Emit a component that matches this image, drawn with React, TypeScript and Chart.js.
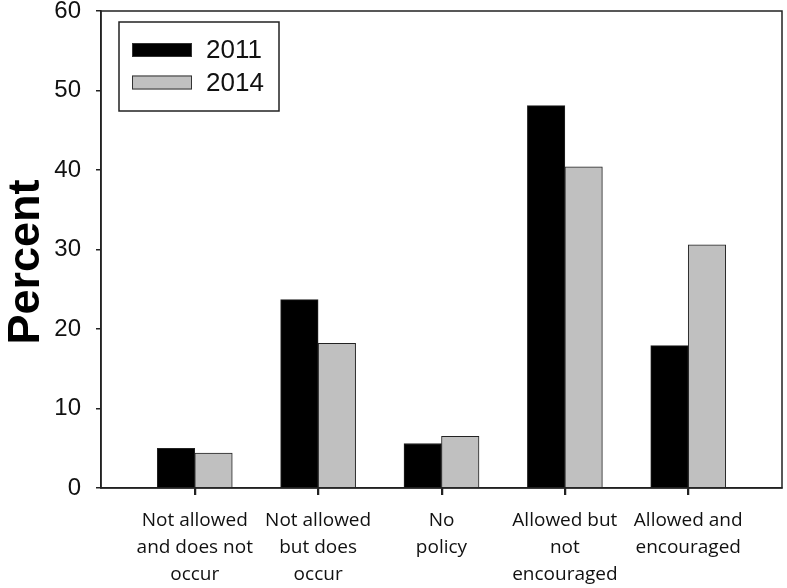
import React, { useEffect, useRef } from "react";
import { Chart, registerables } from "chart.js";

Chart.register(...registerables);

const categories: string[][] = [
  ["Not allowed", "and does not", "occur"],
  ["Not allowed", "but does", "occur"],
  ["No", "policy"],
  ["Allowed but", "not", "encouraged"],
  ["Allowed and", "encouraged"],
];
const positions = [1, 2, 3, 4, 5];
const values2011 = [5.0, 23.7, 5.6, 48.1, 17.9];
const values2014 = [4.4, 18.2, 6.5, 40.4, 30.6];
const yTicks = [0, 10, 20, 30, 40, 50, 60];

const frameAndLegend = {
  id: "frameAndLegend",
  afterDraw(chart: any) {
    const { ctx, chartArea } = chart;
    ctx.save();
    ctx.strokeStyle = "#222";
    ctx.lineWidth = 1.5;
    ctx.strokeRect(chartArea.left, chartArea.top, chartArea.right - chartArea.left, chartArea.bottom - chartArea.top);
    // x tick marks at category positions
    const xs = chart.scales.x;
    ctx.beginPath();
    positions.forEach((p) => {
      const px = Math.round(xs.getPixelForValue(p)) + 0.5;
      ctx.moveTo(px, chartArea.bottom);
      ctx.lineTo(px, chartArea.bottom + 7);
    });
    ctx.stroke();
    // legend
    const lx = 119, ly = 22, lw = 160, lh = 89;
    ctx.lineWidth = 1.5;
    ctx.strokeStyle = "#222";
    ctx.strokeRect(lx, ly, lw, lh);
    const rows = [50, 82.5];
    chart.data.datasets.forEach((ds: any, i: number) => {
      const cy = rows[i];
      ctx.fillStyle = ds.backgroundColor;
      ctx.fillRect(132, cy - 7, 60, 14);
      ctx.lineWidth = 1;
      ctx.strokeStyle = "#333";
      ctx.strokeRect(132.5, cy - 6.5, 59, 13);
      ctx.fillStyle = "#111";
      ctx.font = "26px 'Liberation Sans', Arial, sans-serif";
      ctx.textBaseline = "middle";
      ctx.textAlign = "left";
      ctx.fillText(ds.label, 206, cy + 1);
    });
    ctx.restore();
  },
};

export default function App() {
  const ref = useRef<HTMLCanvasElement>(null);
  useEffect(() => {
    document.body.style.margin = "0";
    const chart = new Chart(ref.current!, {
      type: "bar",
      data: {
        datasets: [
          {
            label: "2011",
            data: positions.map((x, i) => ({ x, y: values2011[i] })),
            backgroundColor: "#000000",
            borderColor: "#222222",
            borderWidth: 1,
            barThickness: 37.5,
          },
          {
            label: "2014",
            data: positions.map((x, i) => ({ x, y: values2014[i] })),
            backgroundColor: "#c0c0c0",
            borderColor: "#222222",
            borderWidth: 1,
            barThickness: 37.5,
          },
        ],
      },
      options: {
        animation: false,
        responsive: false,
        layout: { padding: { top: 11, right: 5, left: 0, bottom: 0 } },
        plugins: { legend: { display: false }, tooltip: { enabled: false } },
        scales: {
          x: {
            type: "linear",
            min: 0.24,
            max: 5.76,
            offset: false,
            afterBuildTicks: (scale: any) => {
              scale.ticks = positions.map((v) => ({ value: v }));
            },
            afterFit: (scale: any) => {
              scale.height = 100;
            },
            ticks: {
              autoSkip: false,
              maxRotation: 0,
              padding: 12,
              color: "#111",
              font: { family: "'Open Sans', sans-serif", size: 19, lineHeight: 1.42 },
              callback: (v: any) => {
                const idx = positions.indexOf(Number(v));
                return idx >= 0 ? categories[idx] : "";
              },
            },
            grid: {
              display: true,
              offset: false,
              drawOnChartArea: false,
              drawTicks: true,
              tickLength: 7,
              color: "#222",
              lineWidth: 1.5,
            },
            border: { display: true, color: "#222", width: 1.5 },
          },
          y: {
            min: 0,
            max: 60,
            afterBuildTicks: (scale: any) => {
              scale.ticks = yTicks.map((v) => ({ value: v }));
            },
            afterFit: (scale: any) => {
              scale.width = 101;
              scale.paddingTop = 0;
              scale.paddingBottom = 0;
            },
            ticks: {
              padding: 15,
              color: "#111",
              font: { family: "'Liberation Sans', Arial, sans-serif", size: 24 },
            },
            grid: { display: true, drawOnChartArea: false, tickLength: 5, color: "#222", lineWidth: 1.5 },
            border: { display: true, color: "#222", width: 1.5 },
            title: {
              display: true,
              text: "Percent  ",
              color: "#000",
              padding: { top: 0, bottom: 0 },
              font: { family: "'Liberation Sans', Arial, sans-serif", size: 45, weight: "bold" },
            },
          },
        },
      },
      plugins: [frameAndLegend],
    } as any);
    return () => chart.destroy();
  }, []);
  return <canvas ref={ref} width={787} height={588} style={{ display: "block" }} />;
}
